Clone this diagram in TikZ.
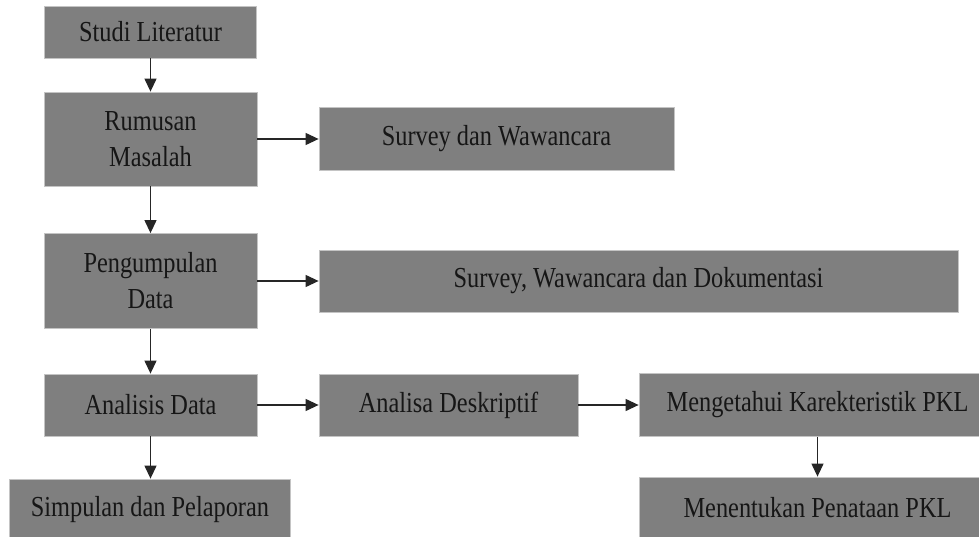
\documentclass[tikz,border=0pt]{standalone}
\usepackage{fontspec}
\setmainfont{Liberation Serif}[FakeStretch=0.84]
\usetikzlibrary{arrows.meta}
\definecolor{boxgray}{HTML}{7F7F7F}
\definecolor{edgegray}{HTML}{C4C4C4}
\definecolor{txt}{HTML}{161616}
\begin{document}
\begin{tikzpicture}[x=1pt,y=-1pt,
  box/.style={draw=edgegray, line width=0.8pt, fill=boxgray, inner sep=0pt,
    align=center, text=txt, font=\fontsize{29}{36}\selectfont},
  arr/.style={-{Triangle[length=13pt,width=12pt]}, line width=1.2pt, draw=black!85}]
\useasboundingbox (0,0) rectangle (979,537);
\clip (0,0) rectangle (979,537);
\fill[white] (0,0) rectangle (979,537);
% left column
\node[box, minimum width=212pt, minimum height=52pt] (A) at (150.5,32) {Studi Literatur};
\node[box, minimum width=213pt, minimum height=94pt] (B) at (150.5,139) {Rumusan\\Masalah};
\node[box, minimum width=213pt, minimum height=95pt] (D) at (150.5,281) {Pengumpulan\\Data};
\node[box, minimum width=213pt, minimum height=62pt] (F) at (150.5,405) {Analisis Data};
\node[box, minimum width=281pt, minimum height=62pt] (I) at (150,510) {Simpulan dan Pelaporan};
% right side
\node[box, minimum width=355pt, minimum height=63pt] (C) at (496.5,139) {Survey dan Wawancara};
\node[box, minimum width=639pt, minimum height=62pt] (E) at (638.5,281) {Survey, Wawancara dan Dokumentasi};
\node[box, minimum width=259pt, minimum height=62pt] (G) at (448.5,405) {Analisa Deskriptif};
\node[box, minimum width=357pt, minimum height=63pt] (H) at (817.5,405) {Mengetahui Karekteristik PKL};
\node[box, minimum width=357pt, minimum height=62pt] (J) at (817.5,508) {Menentukan Penataan PKL};
% connectors
\draw[arr] (A.south) -- (B.north);
\draw[arr] (B.south) -- (D.north);
\draw[arr] (D.south) -- (F.north);
\draw[arr] (F.south) -- (F.south |- I.north);
\draw[arr] (B.east) -- (B.east -| C.west);
\draw[arr] (D.east) -- (D.east -| E.west);
\draw[arr] (F.east) -- (F.east -| G.west);
\draw[arr] (G.east) -- (G.east -| H.west);
\draw[arr] (H.south) -- (J.north);
\end{tikzpicture}
\end{document}
